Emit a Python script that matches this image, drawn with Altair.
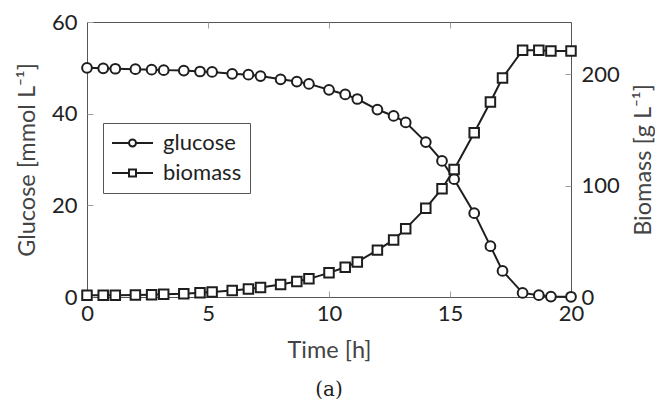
import altair as alt
import pandas as pd

time_h = [0, 0.67, 1.17, 2, 2.67, 3.17, 4, 4.67, 5.17, 6, 6.67, 7.17, 8, 8.67, 9.17,
          10, 10.67, 11.17, 12, 12.67, 13.17, 14, 14.67, 15.17, 16, 16.67, 17.17,
          18, 18.67, 19.17, 20]
glucose = [50.0, 49.9, 49.8, 49.7, 49.6, 49.5, 49.4, 49.2, 49.1, 48.7, 48.5, 48.2,
           47.5, 47.0, 46.5, 45.2, 44.2, 43.2, 40.9, 39.5, 38.1, 33.8, 29.7, 25.7,
           18.3, 11.1, 5.7, 0.9, 0.4, 0.1, 0.05]
biomass = [1.5, 1.5, 1.5, 1.8, 2.1, 2.4, 3.0, 3.9, 4.5, 5.9, 7.1, 8.6, 11.3, 13.9,
           16.3, 21.7, 26.7, 31.5, 42.1, 51.3, 61.4, 79.8, 97.3, 114.6, 147.6, 175.1,
           196.8, 221.6, 221.6, 221.0, 221.0]
series = ["glucose", "biomass"]

df = pd.DataFrame({"t": time_h, "glucose": glucose, "biomass": biomass})
leg_df = pd.DataFrame({"series": series})

FONT = "Lato"
INK = "#1e1e1e"
TICK = "#a0a0a0"
LBL = 22
TTL = 23.5

x_scale = alt.Scale(domain=[0, 20], nice=False, zero=False)

x_bottom = alt.Axis(orient="bottom", values=[0, 5, 10, 15, 20], offset=-6, tickSize=6,
                    tickColor=TICK, domain=False, grid=False, labelPadding=6,
                    labelFlush=False, labelOverlap=False,
                    title="Time [h]", titlePadding=14, labelFont=FONT, titleFont=FONT,
                    labelFontSize=LBL, titleFontSize=TTL, titleFontWeight="normal",
                    labelColor="#222", titleColor="#444")
x_top = alt.Axis(orient="top", values=[5, 10, 15], offset=-6, tickSize=6, tickColor=TICK,
                 domain=False, grid=False, labels=False, title=None)

y_left = alt.Axis(orient="left", values=[0, 20, 40, 60], offset=-6, tickSize=6,
                  tickColor=TICK, domain=False, grid=False, labelPadding=10,
                  labelFlush=False, labelOverlap=False,
                  title="Glucose [mmol L⁻¹]", titlePadding=12, labelFont=FONT,
                  titleFont=FONT, labelFontSize=LBL, titleFontSize=TTL,
                  titleFontWeight="normal", labelColor="#222", titleColor="#444")
y_right = alt.Axis(orient="right", values=[0, 100, 200], offset=-6, tickSize=6,
                   tickColor=TICK, domain=False, grid=False, labelPadding=10,
                   labelFlush=False, labelOverlap=False,
                   title="Biomass [g L⁻¹]", titlePadding=12, titleAngle=270,
                   titleBaseline="top",
                   labelFont=FONT, titleFont=FONT, labelFontSize=LBL, titleFontSize=TTL,
                   titleFontWeight="normal", labelColor="#222", titleColor="#444")

gbase = alt.Chart(df).encode(
    x=alt.X("t:Q", scale=x_scale, axis=x_bottom),
    y=alt.Y("glucose:Q", scale=alt.Scale(domain=[0, 60], nice=False), axis=y_left),
)
g_layer = alt.layer(
    gbase.mark_line(color=INK, strokeWidth=2),
    gbase.mark_point(shape="circle", size=95, filled=True, fill="white", stroke=INK,
                     strokeWidth=2, opacity=1),
)

bbase = alt.Chart(df).encode(
    x=alt.X("t:Q", scale=x_scale, axis=x_top),
    y=alt.Y("biomass:Q", scale=alt.Scale(domain=[0, 247], nice=False), axis=y_right),
)
b_layer = alt.layer(
    bbase.mark_line(color=INK, strokeWidth=2),
    bbase.mark_point(shape="square", size=90, filled=True, fill="white", stroke=INK,
                     strokeWidth=2, opacity=1),
)

path_c = ("M-1,0H-0.17M0.17,0H1M-0.17,0A0.17,0.17 0 1,0 0.17,0"
          "A0.17,0.17 0 1,0 -0.17,0Z")
path_s = "M-1,0H-0.17M0.17,0H1M-0.17,-0.17H0.17V0.17H-0.17Z"

legend_layer = alt.Chart(leg_df).mark_point(opacity=0).encode(
    shape=alt.Shape(
        "series:N",
        scale=alt.Scale(domain=series, range=[path_c, path_s]),
        legend=alt.Legend(
            title=None, orient="none", legendX=16, legendY=101,
            symbolSize=1681, symbolStrokeColor=INK, symbolFillColor="white",
            symbolStrokeWidth=2, symbolOpacity=1, labelFont=FONT, labelFontSize=LBL,
            labelColor="#222", labelOffset=9, padding=8, rowPadding=6, clipHeight=24,
            strokeColor="#555", fillColor="white", cornerRadius=0,
        ),
    )
)

chart = alt.layer(g_layer, b_layer, legend_layer).resolve_scale(
    y="independent"
).resolve_axis(x="independent", y="independent").properties(
    width=484, height=275,
    autosize=alt.AutoSizeParams(type="none"),
    padding={"left": 79, "top": 14, "right": 84, "bottom": 103},
    title=alt.TitleParams("(a)", orient="bottom", font="DejaVu Serif", fontSize=20,
                          fontWeight="normal", anchor="middle", offset=18, color="#222"),
).configure_view(stroke="#555", strokeWidth=1)

chart.save("out.html", embed_options={"renderer": "svg", "actions": False})
